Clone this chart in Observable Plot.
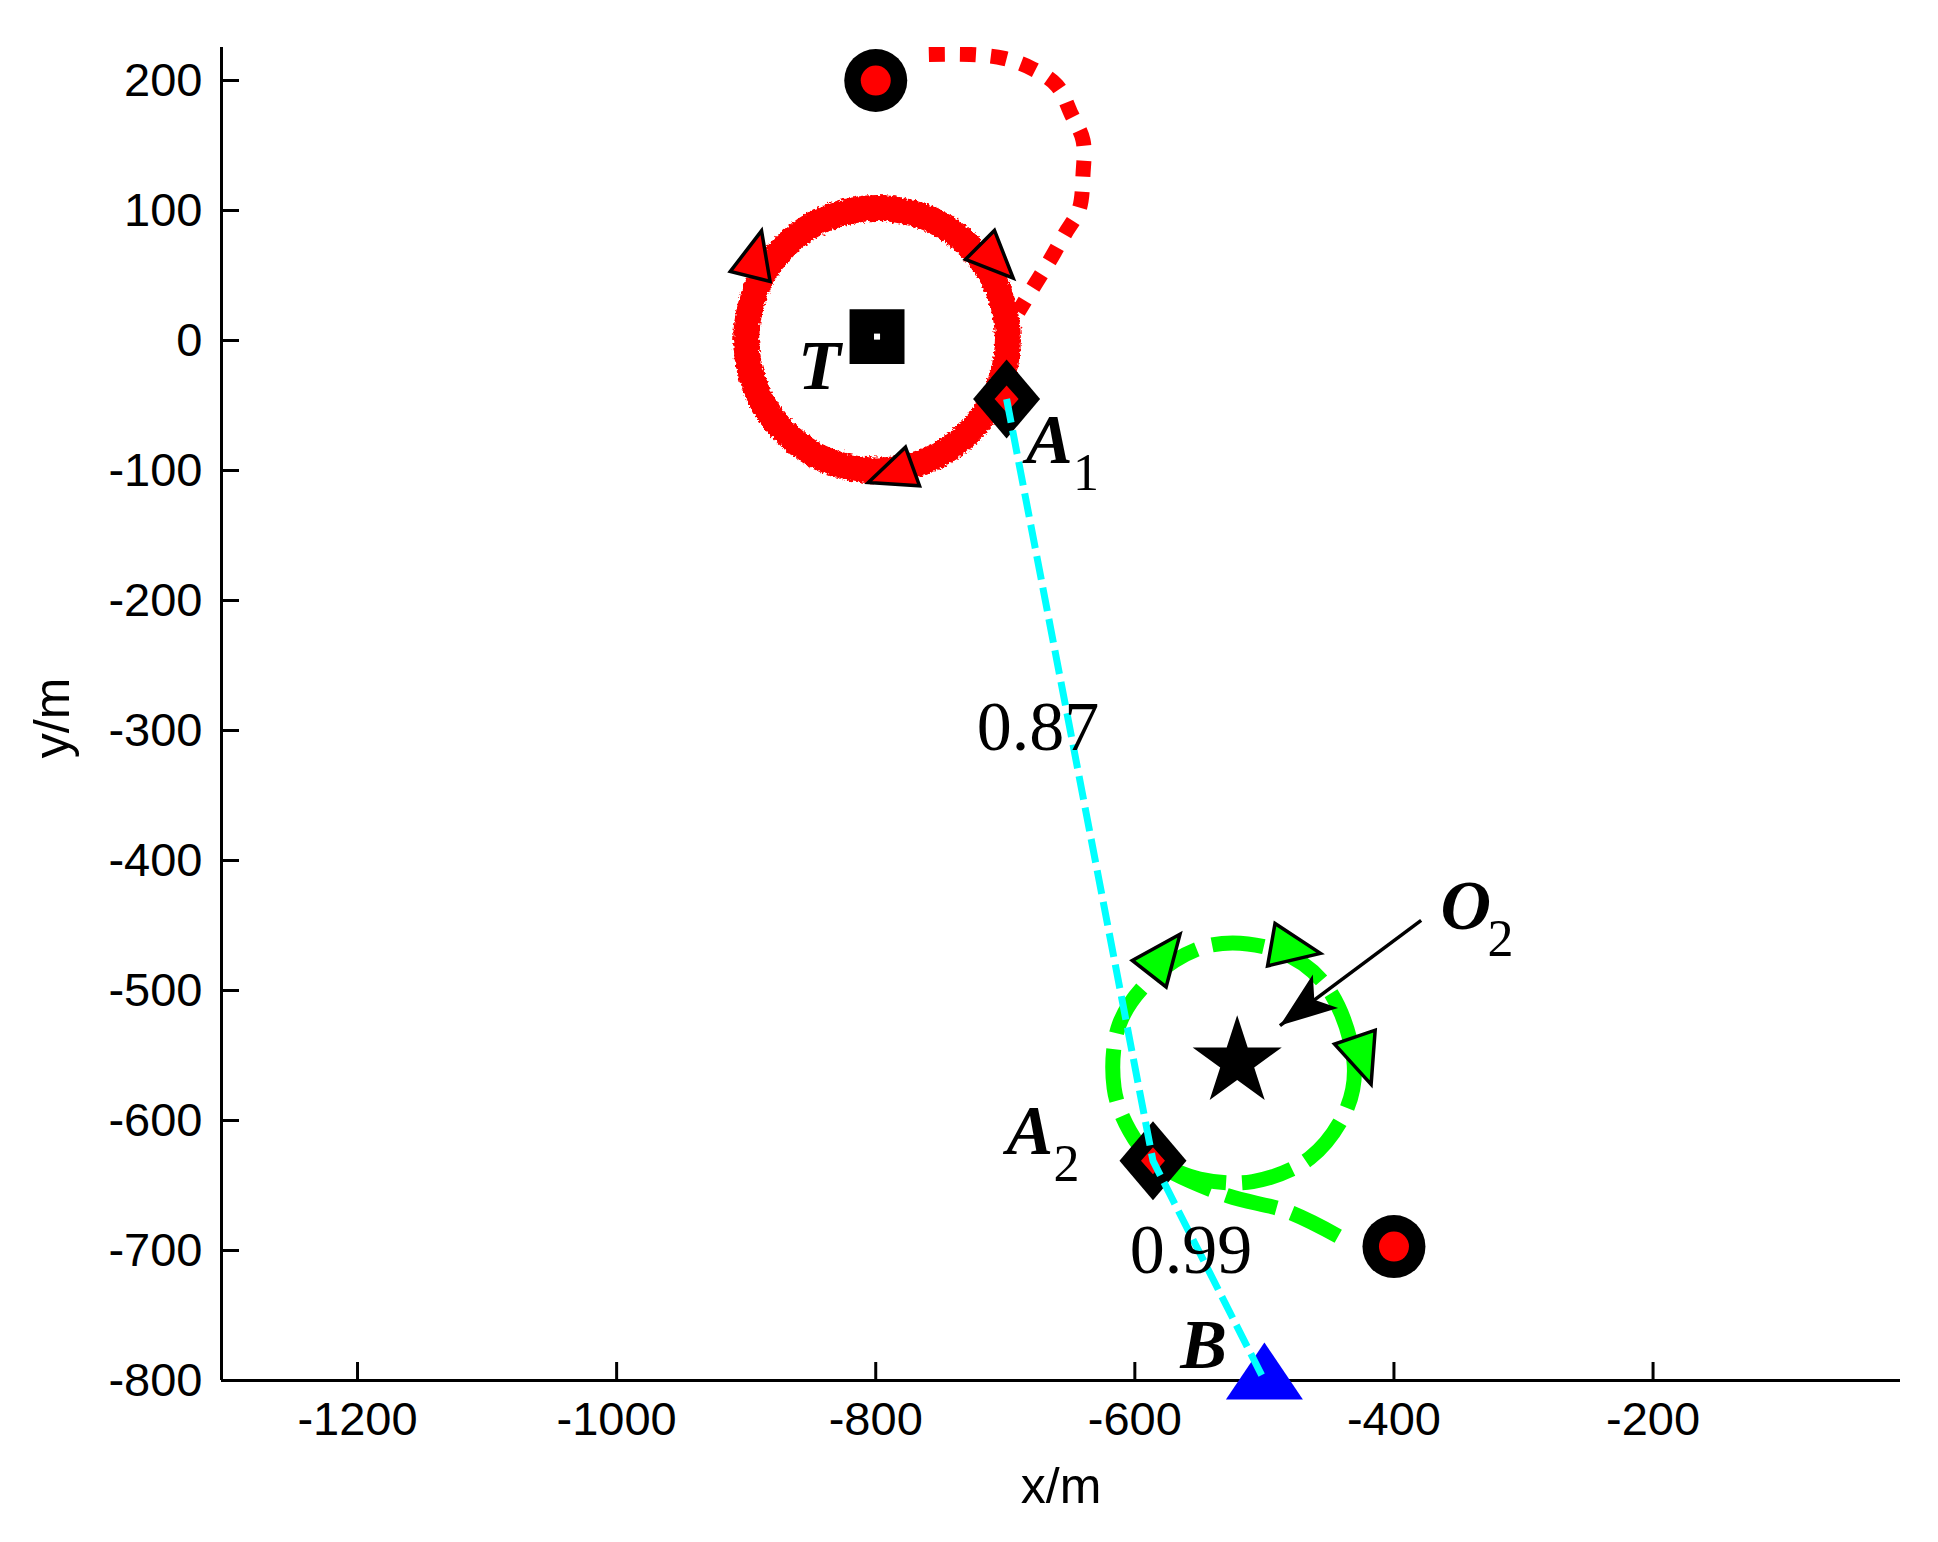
<!DOCTYPE html>
<html>
<head>
<meta charset="utf-8">
<script src="https://cdn.jsdelivr.net/npm/d3@7"></script>
<script src="https://cdn.jsdelivr.net/npm/@observablehq/plot@0.6"></script>
<style>
  html, body { margin: 0; padding: 0; background: #ffffff; }
  svg { display: block; }
</style>
</head>
<body>
<div id="chart"></div>
<script>
// ---------- data ----------
const xTicks = [-1200, -1000, -800, -600, -400, -200];
const yTicks = [200, 100, 0, -100, -200, -300, -400, -500, -600, -700, -800];
const xDomain = [-1305, -9];
const yDomain = [-800, 225.4];

// red UAV: approach path (dotted) from its start point to the loiter circle
const redApproach = [
  {x: -759, y: 220}, {x: -727, y: 220}, {x: -701, y: 217}, {x: -679, y: 209},
  {x: -660, y: 196}, {x: -649, y: 174}, {x: -640, y: 154}, {x: -640, y: 128},
  {x: -643, y: 101}, {x: -654, y: 82}, {x: -666, y: 61}, {x: -679, y: 40},
  {x: -690, y: 22}
];
// red UAV: loiter circle around T
const redOrbit = [
  {x: -698, y: 1}, {x: -711.5, y: 51.5}, {x: -748.5, y: 88.5}, {x: -799, y: 102},
  {x: -849.5, y: 88.5}, {x: -886.5, y: 51.5}, {x: -900, y: 1}, {x: -886.5, y: -49.5},
  {x: -849.5, y: -86.5}, {x: -799, y: -100}, {x: -748.5, y: -86.5}, {x: -711.5, y: -49.5}
];
// green UAV: start, join, circle around O2
const greenPath = [
  {x: -443, y: -689}, {x: -482, y: -670}, {x: -528, y: -658}, {x: -571, y: -640},
  {x: -586, y: -631}, {x: -604, y: -608}, {x: -616, y: -575}, {x: -612, y: -526},
  {x: -585, y: -489}, {x: -541, y: -465}, {x: -488, y: -470}, {x: -452, y: -497},
  {x: -431, y: -553}, {x: -436, y: -590}, {x: -465, y: -629}, {x: -509, y: -647},
  {x: -550, y: -645}, {x: -586, y: -631}
];
const startPoints = [{x: -800, y: 200}, {x: -400, y: -697}];
const targetT = [{x: -799, y: 3}];
const centerO2 = [{x: -521, y: -555}];
const exitPoints = [{x: -699, y: -45}, {x: -586, y: -631}];   // A1, A2
const pointB = [{x: -500, y: -800}];
const cyanPath = [...exitPoints, ...pointB];

// direction arrows on the orbits (angle = heading, deg clockwise from up)
const redArrows = [
  {x: -894, y: 61, angle: 14},
  {x: -711, y: 65, angle: 135},
  {x: -783, y: -101, angle: 250}
];
const greenArrows = [
  {x: -581, y: -477, angle: 38},
  {x: -482, y: -467, angle: 100},
  {x: -426, y: -548, angle: 161}
];

// annotation pointer O2 -> star
const pointer = [{x1: -379, y1: -446, x2: -488, y2: -527, angle: 233}];

// text labels
const pointLabels = [
  {text: "T", x: -860, y: -37, sub: ""},
  {text: "A", x: -684, y: -94, sub: "1"},
  {text: "A", x: -699, y: -626, sub: "2"},
  {text: "O", x: -364, y: -453, sub: "2"},
  {text: "B", x: -565, y: -790, sub: ""}
];
const probLabels = [
  {text: "0.87", x: -722, y: -315},
  {text: "0.99", x: -604, y: -717}
];

// ---------- custom marker shapes ----------
function triangleShape(base, height) {        // centroid at origin, apex up
  return {draw(ctx) {
    ctx.moveTo(0, -2 * height / 3);
    ctx.lineTo(base / 2, height / 3);
    ctx.lineTo(-base / 2, height / 3);
    ctx.closePath();
  }};
}
function diamondShape(w, h) {
  return {draw(ctx) {
    ctx.moveTo(0, -h / 2);
    ctx.lineTo(w / 2, 0);
    ctx.lineTo(0, h / 2);
    ctx.lineTo(-w / 2, 0);
    ctx.closePath();
  }};
}
const headShape = {draw(ctx) {                 // tip at origin, pointing up
  ctx.moveTo(0, 0);
  ctx.lineTo(21, 57);
  ctx.lineTo(0, 43);
  ctx.lineTo(-21, 57);
  ctx.closePath();
}};

const W = 1938, H = 1542;
const mL = 221, mR = 38, mT = 47, mB = 162;
const frameW = W - mL - mR, frameH = H - mT - mB;
const serif = "'Liberation Serif', 'Times New Roman', Times, serif";

const chart = Plot.plot({
  width: W,
  height: H,
  marginLeft: mL, marginRight: mR, marginTop: mT, marginBottom: mB,
  x: {domain: xDomain},
  y: {domain: yDomain},
  style: {fontFamily: "'Liberation Sans', Arial, Helvetica, sans-serif", background: "#ffffff", color: "#000"},
  marks: [
    // axes
    Plot.axisX(xTicks, {tickSize: 0, tickPadding: 21, tickFormat: d => String(d), fontSize: 47, label: null}),
    Plot.axisY(yTicks, {tickSize: 0, tickPadding: 19, tickFormat: d => String(d), fontSize: 47, label: null}),
    Plot.ruleX(xTicks, {x: d => d, insetTop: frameH - 18, stroke: "#000", strokeWidth: 3}),
    Plot.ruleY(yTicks, {y: d => d, insetRight: frameW - 18, stroke: "#000", strokeWidth: 3}),
    Plot.ruleX([xDomain[0]], {x: d => d, stroke: "#000", strokeWidth: 3}),
    Plot.ruleY([yDomain[0]], {y: d => d, stroke: "#000", strokeWidth: 3}),
    Plot.text(["x/m"], {text: d => d, frameAnchor: "bottom", textAnchor: "middle", dy: 122,
      lineAnchor: "bottom", fontSize: 50}),
    Plot.text(["y/m"], {text: d => d, frameAnchor: "left", textAnchor: "middle", rotate: -90,
      dx: -153, dy: 4, lineAnchor: "bottom", fontSize: 50}),

    // red UAV
    Plot.line(redApproach, {x: "x", y: "y", curve: "catmull-rom", stroke: "#ff0000", strokeWidth: 15,
      strokeDasharray: "16,15", strokeLinecap: "butt", clip: true}),
    Plot.line(redOrbit, {x: "x", y: "y", curve: "catmull-rom-closed", stroke: "#ff0000", strokeWidth: 26,
      strokeLinejoin: "round", className: "rough-ring"}),
    Plot.dot(redArrows, {x: "x", y: "y", rotate: "angle", symbol: triangleShape(41, 47),
      fill: "#ff0000", stroke: "#000", strokeWidth: 3.5}),

    // green UAV
    Plot.line(greenPath, {x: "x", y: "y", curve: "catmull-rom", stroke: "#00ff00", strokeWidth: 15,
      strokeDasharray: "52,16", strokeLinecap: "butt"}),
    Plot.dot(greenArrows, {x: "x", y: "y", rotate: "angle", symbol: triangleShape(43, 50),
      fill: "#00ff00", stroke: "#000", strokeWidth: 3.5}),

    // start markers
    Plot.dot(startPoints, {x: "x", y: "y", r: 31.5, fill: "#000"}),
    Plot.dot(startPoints, {x: "x", y: "y", r: 15, fill: "#ff0000"}),

    // target T and centre O2
    Plot.dot(targetT, {x: "x", y: "y", symbol: "square", r: 31, fill: "#000"}),
    Plot.dot(targetT, {x: "x", y: "y", symbol: "square", r: 3.4, fill: "#ffffff"}),
    Plot.dot(centerO2, {x: "x", y: "y", symbol: "star", r: 28, fill: "#000"}),

    // exit points A1, A2
    Plot.dot(exitPoints, {x: "x", y: "y", symbol: diamondShape(67, 79), fill: "#000"}),
    Plot.dot(exitPoints, {x: "x", y: "y", symbol: diamondShape(24, 27), fill: "#ff0000"}),

    // end point B
    Plot.dot(pointB, {x: "x", y: "y", symbol: triangleShape(77, 57), fill: "#0000ff"}),

    // cyan transfer path
    Plot.line(cyanPath, {x: "x", y: "y", stroke: "#00ffff", strokeWidth: 7, strokeDasharray: "24,8",
      strokeLinecap: "butt"}),

    // pointer to O2
    Plot.link(pointer, {x1: "x1", y1: "y1", x2: "x2", y2: "y2", stroke: "#000", strokeWidth: 3.5}),
    Plot.dot(pointer, {x: "x2", y: "y2", rotate: "angle", symbol: headShape, fill: "#000"}),

    // labels
    Plot.text(pointLabels, {x: "x", y: "y", text: "text", textAnchor: "start", lineAnchor: "bottom",
      fontFamily: serif, fontSize: 70, fontStyle: "italic", fontWeight: "bold", fill: "#000"}),
    Plot.text(pointLabels.filter(d => d.sub), {x: "x", y: "y", text: "sub", textAnchor: "start",
      lineAnchor: "bottom", dx: 47, dy: 27, fontFamily: serif, fontSize: 52, fill: "#000"}),
    Plot.text(probLabels, {x: "x", y: "y", text: "text", textAnchor: "start", lineAnchor: "bottom",
      fontFamily: serif, fontSize: 70, fill: "#000"})
  ]
});

// roughen the edge of the thick loiter ring, as in the reference
const ns = "http://www.w3.org/2000/svg";
const defs = document.createElementNS(ns, "defs");
defs.innerHTML =
  '<filter id="rough" x="-10%" y="-10%" width="120%" height="120%">' +
  '<feTurbulence type="fractalNoise" baseFrequency="0.35" numOctaves="2" seed="3" result="n"/>' +
  '<feDisplacementMap in="SourceGraphic" in2="n" scale="6" xChannelSelector="R" yChannelSelector="G"/>' +
  '</filter>';
chart.insertBefore(defs, chart.firstChild);
chart.querySelectorAll("g.rough-ring path, .rough-ring path").forEach(p => p.setAttribute("filter", "url(#rough)"));

document.getElementById("chart").appendChild(chart);
</script>
</body>
</html>
